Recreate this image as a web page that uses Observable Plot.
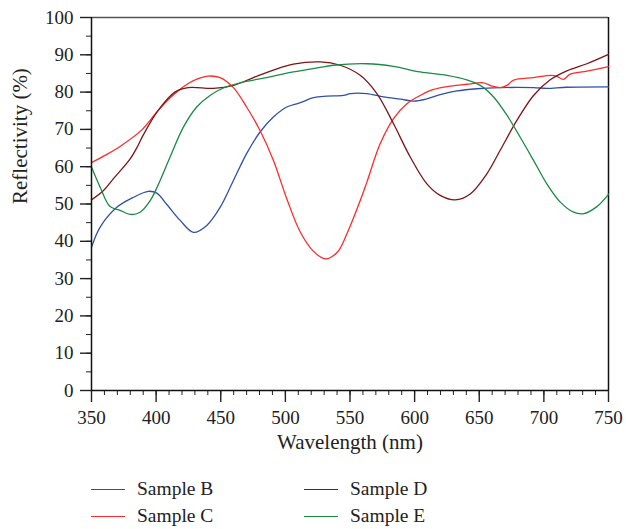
<!DOCTYPE html>
<html>
<head>
<meta charset="utf-8">
<script src="https://cdn.jsdelivr.net/npm/d3@7"></script>
<script src="https://cdn.jsdelivr.net/npm/@observablehq/plot@0.6"></script>
<style>
  body { margin: 0; background: #fff; font-family: "Liberation Serif", serif; }
  #chart { width: 626px; }
  .legend { position: relative; height: 64px; font-family: "Liberation Serif", serif; font-size: 19.5px; color: #222; }
  .item { position: absolute; display: flex; align-items: center; height: 24px; line-height: 24px; }
  .swatch { width: 34px; height: 0; border-top: 1.5px solid; margin-right: 12px; }
</style>
</head>
<body>
<div id="chart"></div>
<script>
const seriesNames = ["Sample B", "Sample C", "Sample D", "Sample E"];
const seriesColors = ["#3050a8", "#ff2a2a", "#7b1518", "#1c8a45"];

const sampleB_nm = [350, 356.7, 369.6, 382.5, 394, 400.5, 408, 418.6, 428.9, 439, 449.5, 459.8, 470, 480.4, 490.7, 501, 511, 521.8, 532, 545, 550.2, 563, 576, 589, 599.2, 609.5, 619.8, 632.7, 648.2, 666.2, 692, 702.3, 717.8, 750];
const sampleB_R  = [38.4, 43.8, 49.1, 51.8, 53.4, 52.9, 50, 45.6, 42.4, 44.2, 49.1, 56.3, 63.5, 69.3, 73.3, 76, 77.1, 78.5, 78.9, 79.1, 79.6, 79.6, 78.7, 78.1, 77.6, 78.2, 79.3, 80.3, 80.9, 81.2, 81.2, 81.0, 81.3, 81.4];

const sampleC_nm = [350, 361.9, 373.2, 388.7, 401.6, 414.5, 424.8, 432.6, 440.4, 449.5, 459.8, 470, 480.4, 490.7, 501, 511.5, 521.8, 530.8, 540, 547.6, 558, 563, 573.4, 583.7, 594, 604.3, 614.7, 627.6, 640.4, 653.3, 659.8, 666.2, 671.4, 676.6, 692, 706.2, 710.1, 715.2, 720.4, 733.3, 750];
const sampleC_R  = [61.1, 63.3, 65.7, 69.8, 75.1, 79.6, 82.3, 83.6, 84.3, 83.9, 81.2, 76, 69.7, 61.7, 51.5, 42.5, 37.3, 35.3, 37.0, 42, 51, 55.8, 66.2, 72.9, 76.9, 79.1, 80.7, 81.6, 82.1, 82.5, 81.6, 81.2, 81.8, 83.2, 83.9, 84.5, 84.2, 83.4, 84.8, 85.6, 86.8];

const sampleD_nm = [350, 359.3, 367, 379.9, 386, 390.2, 401.6, 414.5, 424.8, 444.3, 459.8, 475.3, 490.7, 506.2, 527, 542.4, 557.9, 570.8, 583.7, 596.6, 609.5, 619.8, 631.4, 643, 655.9, 666.2, 679.1, 692, 704.9, 717.8, 733.3, 750];
const sampleD_R  = [51.1, 53.6, 56.8, 62.1, 65.7, 68.6, 75.1, 80.0, 81.2, 81.0, 81.8, 83.9, 85.9, 87.5, 88.1, 87.2, 84.5, 79.6, 71.5, 62.6, 55.4, 52.3, 51.1, 52.7, 58.1, 64.4, 72.4, 79.1, 83.3, 85.7, 87.6, 90.1];

const sampleE_nm = [350, 356.7, 364.4, 372.2, 379.9, 387.6, 395.4, 403.1, 410.8, 421.1, 431.4, 441.7, 452, 464.9, 485.5, 506.2, 526.8, 537.3, 563, 583.7, 604.3, 625, 640.4, 650.8, 661.1, 671.4, 681.7, 692, 702.3, 712.7, 723, 730.7, 741, 750];
const sampleE_R  = [59.9, 54.5, 49.3, 48.3, 47.2, 47.8, 50.9, 56.3, 62.6, 70.6, 76, 79.1, 81.1, 82.5, 83.9, 85.4, 86.6, 87.2, 87.6, 86.9, 85.4, 84.5, 83.3, 81.8, 78.7, 73.8, 67.9, 61.7, 55.4, 50.5, 47.8, 47.4, 49.3, 52.6];

const xTicks = [350, 400, 450, 500, 550, 600, 650, 700, 750];
const yTicks = [0, 10, 20, 30, 40, 50, 60, 70, 80, 90, 100];
const xMinor = d3.range(350, 751, 10);
const yMinor = d3.range(0, 101, 5);

const allNm = [sampleB_nm, sampleC_nm, sampleD_nm, sampleE_nm];
const allR = [sampleB_R, sampleC_R, sampleD_R, sampleE_R];
const data = [];
allNm.forEach((arr, i) => arr.forEach((x, j) => data.push({series: seriesNames[i], x, y: allR[i][j]})));

const font = "Liberation Serif, serif";
const plot = Plot.plot({
  width: 626,
  height: 465,
  marginLeft: 91,
  marginRight: 18,
  marginTop: 17,
  marginBottom: 75,
  style: {fontFamily: font, fontSize: "19px", color: "#222", background: "#fff"},
  x: {domain: [350, 750]},
  y: {domain: [0, 100]},
  color: {domain: seriesNames, range: seriesColors},
  marks: [
    Plot.axisX({ticks: xMinor, tickSize: 5, text: null, label: null}),
    Plot.axisX({ticks: xTicks, tickSize: 12, tickPadding: 8, label: null, strokeWidth: 1.4}),
    Plot.axisY({ticks: yMinor, tickSize: 5, text: null, label: null}),
    Plot.axisY({ticks: yTicks, tickSize: 11, tickPadding: 7, label: null, strokeWidth: 1.4}),
    Plot.ruleY([100], {stroke: "#555", strokeWidth: 1.5}),
    Plot.ruleX([750], {stroke: "#111", strokeWidth: 1.5}),
    Plot.line(data, {x: "x", y: "y", z: "series", stroke: "series", strokeWidth: 1.3, curve: "catmull-rom"}),
    Plot.ruleX([350], {stroke: "#111", strokeWidth: 1.5}),
    Plot.ruleY([0], {stroke: "#111", strokeWidth: 1.5}),
    Plot.text(["Wavelength (nm)"], {frameAnchor: "bottom", dy: 58, fontSize: 21, fill: "#222"}),
    Plot.text(["Reflectivity (%)"], {frameAnchor: "left", dx: -71, rotate: -90, fontSize: 21, fill: "#222"})
  ]
});
document.getElementById("chart").appendChild(plot);

const legend = document.createElement("div");
legend.className = "legend";
const positions = [[91, 12], [91, 39], [304, 12], [304, 39]];
seriesNames.forEach((name, i) => {
  const item = document.createElement("div");
  item.className = "item";
  item.style.left = positions[i][0] + "px";
  item.style.top = positions[i][1] + "px";
  const sw = document.createElement("span");
  sw.className = "swatch";
  sw.style.borderTopColor = seriesColors[i];
  const t = document.createElement("span");
  t.textContent = name;
  item.appendChild(sw);
  item.appendChild(t);
  legend.appendChild(item);
});
document.getElementById("chart").appendChild(legend);
</script>
</body>
</html>
